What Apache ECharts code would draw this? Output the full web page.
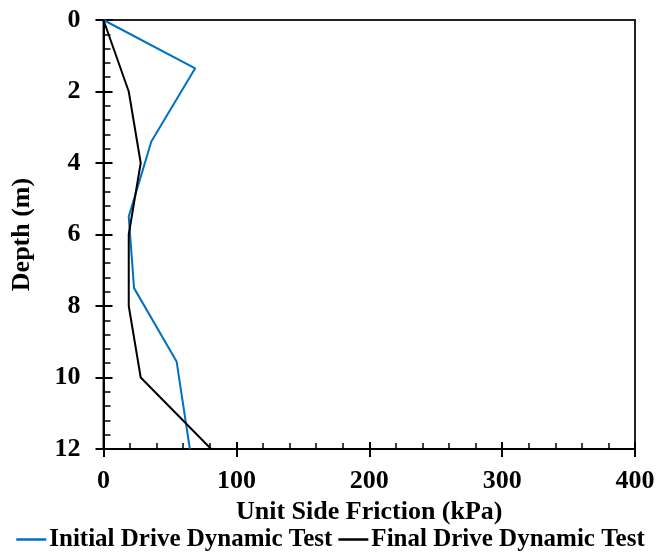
<!DOCTYPE html>
<html>
<head>
<meta charset="utf-8">
<script src="https://cdn.jsdelivr.net/npm/echarts@6/dist/echarts.min.js"></script>
<style>
html,body{margin:0;padding:0;background:#fff;}
#chart{width:661px;height:552px;}
</style>
</head>
<body>
<div id="chart"></div>
<script>
// Data
var seriesNames = ['Initial Drive Dynamic Test', 'Final Drive Dynamic Test'];
var initialFriction = [0, 69, 36, 19, 23, 55, 65];
var initialDepth    = [0, 1.35, 3.4, 5.5, 7.5, 9.55, 12];
var finalFriction   = [0, 19, 28, 19, 19, 28, 81];
var finalDepth      = [0, 2, 4, 6, 8, 10, 12];
var xTicks = [0, 100, 200, 300, 400];
var yTicks = [0, 2, 4, 6, 8, 10, 12];

function pairs(xs, ys) {
  return xs.map(function (v, i) { return [v, ys[i]]; });
}

var FONT = '"Liberation Serif", "Times New Roman", serif';
var FS = 26;
var LFS = 25;
var chart = echarts.init(document.getElementById('chart'), null, {renderer: 'canvas'});

var gridBox = {left: 103.5, top: 20, right: 26, bottom: 103};
var xBase = {
  type: 'value', min: xTicks[0], max: xTicks[xTicks.length - 1], interval: 100,
  splitLine: {show: false}, position: 'bottom'
};
var yBase = {
  type: 'value', min: yTicks[0], max: yTicks[yTicks.length - 1], interval: 2, inverse: true,
  splitLine: {show: false}, position: 'left'
};

chart.setOption({
  animation: false,
  backgroundColor: '#fff',
  grid: [
    Object.assign({show: true, borderColor: '#222', borderWidth: 2, containLabel: false}, gridBox),
    Object.assign({show: false, containLabel: false}, gridBox)
  ],
  legend: {
    bottom: -5, left: 'center',
    icon: 'rect', itemWidth: 30, itemHeight: 2.5, itemGap: 6,
    textStyle: {fontFamily: FONT, fontWeight: 'bold', fontSize: LFS, color: '#000', padding: [0, 0, 0, -2]},
    data: seriesNames
  },
  xAxis: [
    Object.assign({}, xBase, {
      gridIndex: 0,
      name: 'Unit Side Friction (kPa)', nameLocation: 'middle', nameGap: 38,
      nameTextStyle: {fontFamily: FONT, fontWeight: 'bold', fontSize: FS, color: '#000'},
      axisLine: {show: true, onZero: false, lineStyle: {color: '#000', width: 2}},
      axisTick: {show: true, inside: false, length: 8, lineStyle: {color: '#000', width: 2}},
      minorTick: {show: false},
      axisLabel: {show: true, margin: 19, fontFamily: FONT, fontWeight: 'bold', fontSize: FS, color: '#000'}
    }),
    Object.assign({}, xBase, {
      gridIndex: 1,
      axisLine: {show: false, onZero: false},
      axisTick: {show: true, inside: true, length: 7, lineStyle: {color: '#000', width: 2}},
      minorTick: {show: true, splitNumber: 5, length: 6, lineStyle: {color: '#000', width: 1.5}},
      axisLabel: {show: false}
    })
  ],
  yAxis: [
    Object.assign({}, yBase, {
      gridIndex: 0,
      name: 'Depth (m)', nameLocation: 'middle', nameGap: 68,
      nameTextStyle: {fontFamily: FONT, fontWeight: 'bold', fontSize: FS, color: '#000'},
      axisLine: {show: true, onZero: false, lineStyle: {color: '#000', width: 2}},
      axisTick: {show: true, inside: false, length: 8, lineStyle: {color: '#000', width: 2}},
      minorTick: {show: false},
      axisLabel: {show: true, margin: 23, fontFamily: FONT, fontWeight: 'bold', fontSize: FS, color: '#000'}
    }),
    Object.assign({}, yBase, {
      gridIndex: 1,
      axisLine: {show: false, onZero: false},
      axisTick: {show: true, inside: true, length: 9, lineStyle: {color: '#000', width: 2}},
      minorTick: {show: true, splitNumber: 5, length: 7, lineStyle: {color: '#000', width: 1.5}},
      axisLabel: {show: false}
    })
  ],
  series: [
    {
      name: seriesNames[0], type: 'line', xAxisIndex: 0, yAxisIndex: 0,
      data: pairs(initialFriction, initialDepth),
      symbol: 'none', color: '#0070C0',
      lineStyle: {width: 2, color: '#0070C0'}, clip: false
    },
    {
      name: seriesNames[1], type: 'line', xAxisIndex: 0, yAxisIndex: 0,
      data: pairs(finalFriction, finalDepth),
      symbol: 'none', color: '#000',
      lineStyle: {width: 2, color: '#000'}, clip: false
    }
  ]
});
</script>
</body>
</html>
